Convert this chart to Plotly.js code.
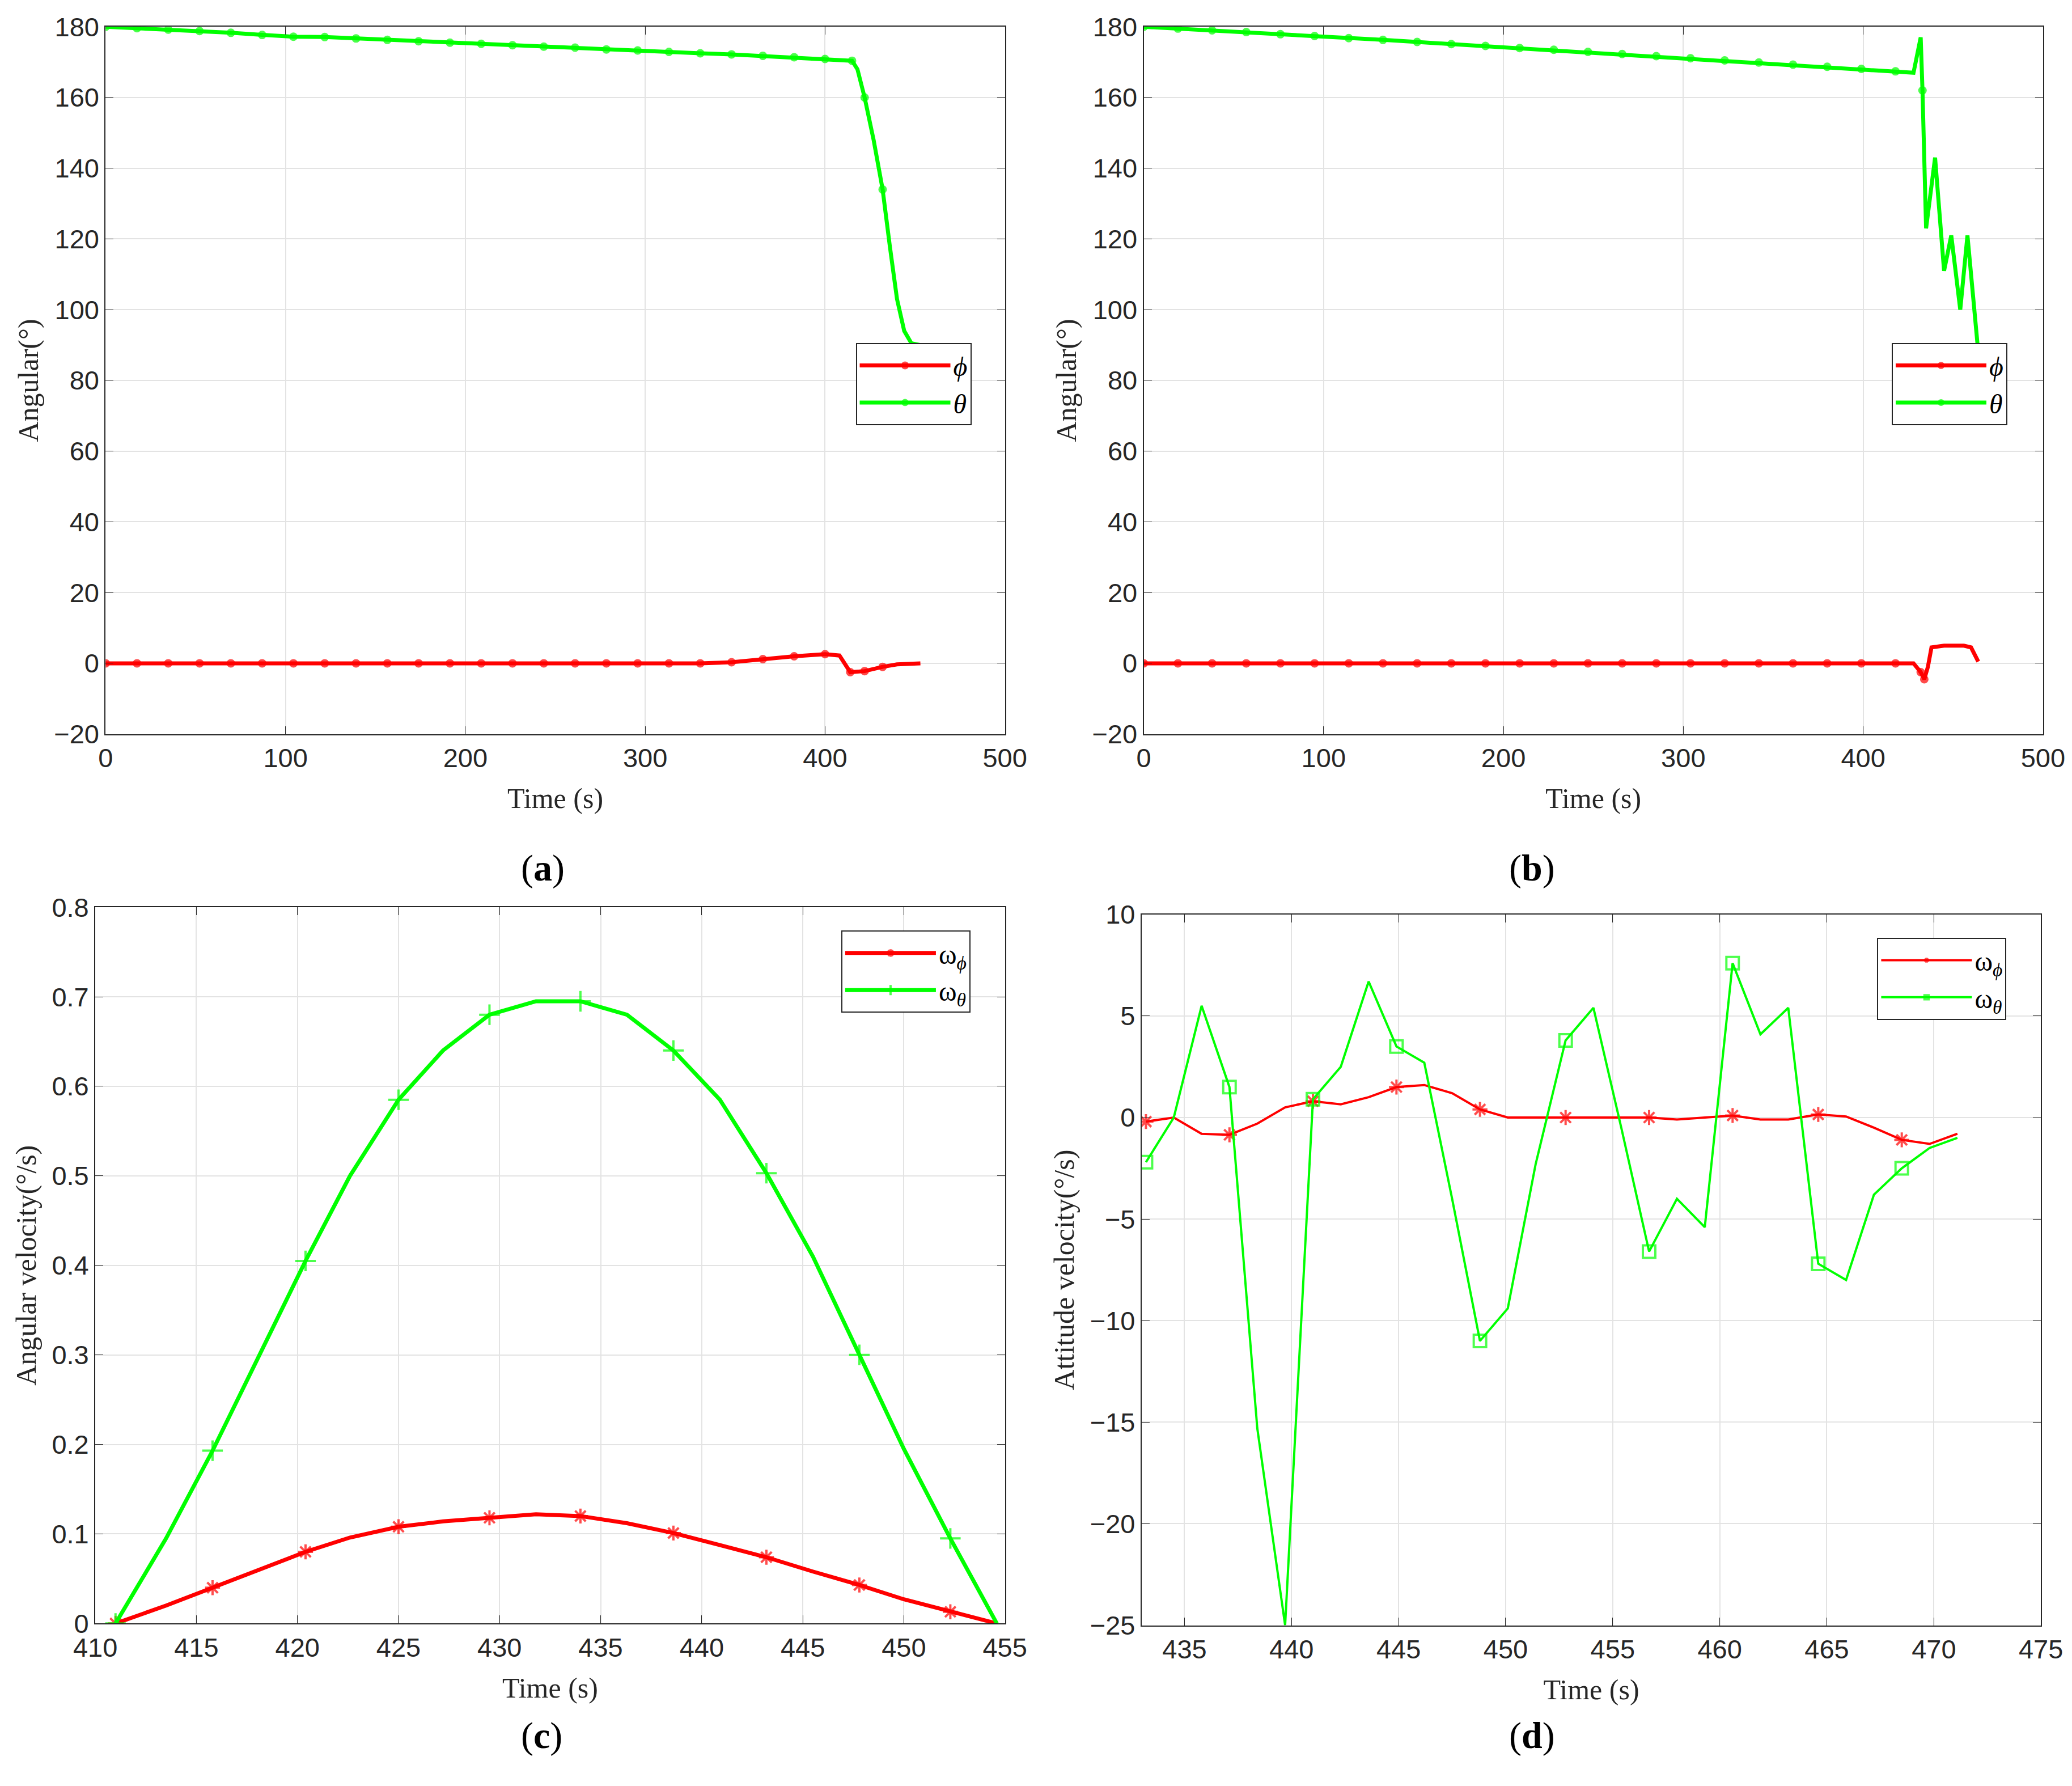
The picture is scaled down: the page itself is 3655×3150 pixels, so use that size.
<!DOCTYPE html>
<html><head><meta charset="utf-8">
<script src="https://cdn.plot.ly/plotly-3.0.1.min.js"></script>
<style>body{margin:0;background:#fff}#gd{width:3655px;height:3150px}</style>
</head><body><div id="gd"></div>
<script>
// (a) angular
const aThetaT = [0,17.4,34.8,52.2,69.6,87,104.4,121.8,139.2,156.6,174,191.4,208.8,226.2,243.6,261,278.4,295.8,313.2,330.6,348,365.4,382.8,400,415,418,422,427,432,436,440,444,448,453];
const aThetaV = [180,179.6,179.2,178.8,178.3,177.7,177.2,177.1,176.7,176.3,175.9,175.5,175.2,174.8,174.4,174.1,173.6,173.3,172.9,172.5,172.2,171.8,171.4,170.9,170.4,168,160,148,134,118,103,94,90.5,90];
const aThetaM = [1,1,1,1,1,1,1,1,1,1,1,1,1,1,1,1,1,1,1,1,1,1,1,1,1,0,1,0,1,0,0,0,0,0];
const aPhiT = [0,17.4,34.8,52.2,69.6,87,104.4,121.8,139.2,156.6,174,191.4,208.8,226.2,243.6,261,278.4,295.8,313.2,330.6,348,365.4,382.8,400,408,414,422,432,440,453];
const aPhiV = [0,0,0,0,0,0,0,0,0,0,0,0,0,0,0,0,0,0,0,0,0.3,1.2,2.0,2.6,2.2,-2.5,-2.2,-1.0,-0.3,0];
const aPhiM = [1,1,1,1,1,1,1,1,1,1,1,1,1,1,1,1,1,1,1,1,1,1,1,1,0,1,1,1,0,0];
// (b) angular
const bThetaT = [0,19,38,57,76,95,114,133,152,171,190,209,228,247,266,285,304,323,342,361,380,399,418,428,432,433,435,440,445,449,454,458,464];
const bThetaV = [180,179.5,179,178.5,177.9,177.4,176.8,176.3,175.7,175.1,174.6,174,173.5,172.9,172.3,171.7,171.1,170.5,169.9,169.3,168.7,168.1,167.4,167,177,162,123,143,111,121,100,121,88];
const bThetaM = [1,1,1,1,1,1,1,1,1,1,1,1,1,1,1,1,1,1,1,1,1,1,1,0,0,1,0,0,0,0,0,0,0];
const bPhiT = [0,19,38,57,76,95,114,133,152,171,190,209,228,247,266,285,304,323,342,361,380,399,418,428,432,434,436,438,445,456,460,464];
const bPhiV = [0,0,0,0,0,0,0,0,0,0,0,0,0,0,0,0,0,0,0,0,0,0,0,0,-2.5,-4.5,-1,4.5,5,5,4.5,0.5];
const bPhiM = [1,1,1,1,1,1,1,1,1,1,1,1,1,1,1,1,1,1,1,1,1,1,1,0,1,1,0,0,0,0,0,0];
// (c) angular velocity
const cT = [411,413.5,415.8,418.1,420.4,422.6,425,427.2,429.5,431.8,434,436.3,438.6,440.9,443.2,445.5,447.8,450,452.3,454.6];
const cPhi = [0,0.02,0.04,0.06,0.08,0.096,0.108,0.114,0.118,0.122,0.12,0.112,0.101,0.088,0.074,0.058,0.043,0.027,0.013,0];
const cTheta = [0,0.095,0.193,0.3,0.405,0.5,0.585,0.64,0.68,0.695,0.695,0.68,0.64,0.585,0.503,0.41,0.30,0.195,0.095,0];
const cMark = [1,0,1,0,1,0,1,0,1,0,1,0,1,0,1,0,1,0,1,0];
// (d) attitude velocity
const dT = [433.2,434.5,435.8,437.1,438.4,439.7,441,442.3,443.6,444.9,446.2,447.5,448.8,450.1,451.4,452.8,454.1,455.4,456.7,458,459.3,460.6,461.9,463.2,464.6,465.9,467.2,468.5,469.8,471.1];
const dPhi = [-0.2,0,-0.8,-0.85,-0.3,0.5,0.8,0.65,1.0,1.5,1.6,1.2,0.4,0,0,0,0,0,0,-0.1,0,0.1,-0.1,-0.1,0.15,0.05,-0.5,-1.1,-1.3,-0.8];
const dTheta = [-2.2,0,5.5,1.5,-15.3,-25,0.9,2.5,6.7,3.5,2.7,-4,-11,-9.4,-2.3,3.8,5.4,-0.5,-6.6,-4,-5.4,7.6,4.1,5.4,-7.2,-8,-3.8,-2.5,-1.5,-1.0];
const dMark = [1,0,0,1,0,0,1,0,0,1,0,0,1,0,0,1,0,0,1,0,0,1,0,0,1,0,0,1,0,0];

const red = '#ff0000', green = '#00ff00';
const sz = (m, s) => m.map(v => v ? s : 0);
const PHI = '<i>ϕ</i>', TH = '<i>θ</i>';

function tr(x, y, m, name, color, w, sym, s, ax, lg) {
  return {x: x, y: y, type: 'scatter', mode: 'lines+markers', name: name,
    line: {color: color, width: w},
    marker: {symbol: sym, size: sz(m, s), color: color, line: {color: color, width: 4}},
    xaxis: 'x' + ax, yaxis: 'y' + ax, legend: lg};
}

const data = [
  tr(aPhiT, aPhiV, aPhiM, PHI, red, 7, 'circle', 11, '', 'legend'),
  tr(aThetaT, aThetaV, aThetaM, TH, green, 7, 'circle', 11, '', 'legend'),
  tr(bPhiT, bPhiV, bPhiM, PHI, red, 7, 'circle', 11, '2', 'legend2'),
  tr(bThetaT, bThetaV, bThetaM, TH, green, 7, 'circle', 11, '2', 'legend2'),
  tr(cT, cPhi, cMark, 'ω<sub>' + PHI + '</sub>', red, 7, 'asterisk-open', 22, '3', 'legend3'),
  tr(cT, cTheta, cMark, 'ω<sub>' + TH + '</sub>', green, 7, 'cross-thin-open', 26, '3', 'legend3'),
  tr(dT, dPhi, dMark, 'ω<sub>' + PHI + '</sub>', red, 4, 'asterisk-open', 22, '4', 'legend4'),
  tr(dT, dTheta, dMark, 'ω<sub>' + TH + '</sub>', green, 4, 'square-open', 22, '4', 'legend4')
];

const tickFont = {family: 'Arial, Liberation Sans, sans-serif', size: 47, color: '#262626'};
const titleFont = {family: 'Liberation Serif, Times New Roman, serif', size: 50, color: '#262626'};
function ax(dom, range, dtick, title, anchor, standoff) {
  return {domain: dom, range: range, dtick: dtick, anchor: anchor,
    title: {text: title, font: titleFont, standoff: standoff},
    tickfont: tickFont, ticks: 'inside', ticklen: 14, tickcolor: '#262626',
    showline: true, linecolor: '#262626', linewidth: 2, mirror: 'allticks',
    showgrid: true, gridcolor: '#e3e3e3', gridwidth: 2, zeroline: false};
}
const legFont = {family: 'Liberation Serif, serif', size: 48, color: '#000'};
function leg(x, y) {
  return {x: x, y: y, xanchor: 'left', yanchor: 'top', bgcolor: '#fff',
    bordercolor: '#262626', borderwidth: 2, font: legFont, itemwidth: 160, tracegroupgap: 0};
}
const lab = (t, x, y) => ({text: t, x: x, y: y, xref: 'paper', yref: 'paper', showarrow: false,
  font: {family: 'Liberation Serif, serif', size: 66, color: '#000'}});

const layout = {
  paper_bgcolor: '#fff', plot_bgcolor: '#fff', showlegend: true,
  margin: {l: 0, r: 0, t: 0, b: 0},
  xaxis: ax([0.051, 0.485], [0, 500], 100, 'Time (s)', 'y', 28),
  yaxis: ax([0.589, 0.985], [-20, 180], 20, 'Angular(°)', 'x', 12),
  xaxis2: ax([0.552, 0.986], [0, 500], 100, 'Time (s)', 'y2', 28),
  yaxis2: ax([0.589, 0.985], [-20, 180], 20, 'Angular(°)', 'x2', 12),
  xaxis3: ax([0.046, 0.485], [410, 455], 5, 'Time (s)', 'y3', 28),
  yaxis3: ax([0.091, 0.492], [0, 0.8], 0.1, 'Angular velocity(°/s)', 'x3', 12),
  xaxis4: ax([0.551, 0.985], [433, 475], 5, 'Time (s)', 'y4', 28),
  yaxis4: ax([0.090, 0.488], [-25, 10], 5, 'Attitude velocity(°/s)', 'x4', 12),
  legend: leg(0.413, 0.808),
  legend2: leg(0.913, 0.808),
  legend3: leg(0.406, 0.479),
  legend4: leg(0.906, 0.475),
  annotations: [lab('(<b>a</b>)', 0.251, 0.514), lab('(<b>b</b>)', 0.751, 0.514),
                lab('(<b>c</b>)', 0.251, 0.016), lab('(<b>d</b>)', 0.751, 0.016)]
};
layout.xaxis4.tick0 = 435;
Plotly.newPlot('gd', data, layout, {staticPlot: true});
</script></body></html>
